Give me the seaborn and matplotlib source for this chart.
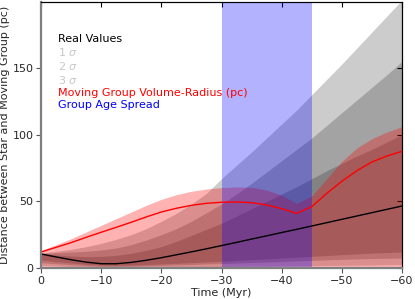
import matplotlib
matplotlib.use('Agg')
import matplotlib.pyplot as plt
import seaborn as sns
import pandas as pd
from matplotlib.lines import Line2D

# Temps (Myr), valeurs
time_myr = [0, -2.5, -5, -7.5, -10, -12.5, -15, -17.5, -20, -22.5, -25, -27.5, -30,
            -32.5, -35, -37.5, -40, -42.5, -45, -47.5, -50, -52.5, -55, -57.5, -60]

# distance réelle (médiane)
real_values = [10.5, 8.3, 6.2, 4.4, 3.2, 3.2, 4.2, 5.8, 7.7, 9.9, 12.1, 14.4, 16.8,
               19.2, 21.7, 24.1, 26.6, 29.0, 31.5, 34.0, 36.5, 39.0, 41.5, 44.0, 46.5]

# bandes 1, 2, 3 sigma
upper_1 = [10.8, 9.8, 9.0, 8.5, 8.7, 9.5, 11.0, 13.3, 16.0, 20.0, 24.5, 29.0, 33.6,
           39.0, 44.5, 50.0, 55.5, 61.0, 67.0, 73.0, 78.5, 84.0, 89.0, 94.5, 100.0]
lower_1 = [6.0, 4.8, 3.8, 2.8, 2.2, 2.0, 2.2, 2.6, 3.0, 3.5, 4.0, 4.5, 5.0,
           5.6, 6.2, 6.8, 7.5, 8.1, 8.7, 9.3, 10.0, 10.6, 11.2, 11.6, 12.0]
upper_2 = [11.0, 11.5, 12.0, 12.5, 13.5, 15.0, 17.5, 21.0, 25.0, 29.5, 35.0, 41.5, 48.0,
           55.5, 63.5, 72.0, 80.5, 89.0, 97.5, 107.0, 116.5, 126.0, 135.5, 145.0, 155.0]
lower_2 = [4.0, 3.2, 2.5, 1.8, 1.3, 1.2, 1.4, 1.7, 2.0, 2.3, 2.6, 3.0, 3.3,
           3.7, 4.1, 4.5, 4.9, 5.3, 5.7, 6.1, 6.5, 6.8, 7.1, 7.3, 7.5]
upper_3 = [11.0, 12.5, 14.0, 16.0, 18.5, 21.5, 25.0, 29.5, 35.0, 41.0, 48.0, 56.0, 67.0,
           77.0, 87.0, 97.5, 108.0, 118.5, 130.0, 141.5, 153.0, 165.0, 177.0, 189.0, 201.0]
lower_3 = [2.0, 1.5, 1.1, 0.8, 0.5, 0.4, 0.5, 0.6, 0.7, 0.8, 0.9, 1.0, 1.2,
           1.3, 1.4, 1.5, 1.6, 1.7, 1.8, 1.9, 2.0, 2.1, 2.2, 2.4, 2.5]

# rayon du groupe mobile
volume_radius = [12.0, 15.5, 19.0, 23.0, 26.8, 30.5, 34.3, 38.3, 42.0, 44.8, 47.0, 48.5, 49.3,
                 49.5, 49.0, 47.3, 44.5, 41.0, 46.0, 56.0, 65.0, 73.0, 79.5, 84.0, 87.5]
volume_radius_upper = [13.0, 17.5, 22.0, 27.0, 32.0, 37.0, 42.0, 47.0, 51.5, 55.0, 57.5, 59.3, 60.3,
                       60.8, 60.5, 58.5, 54.5, 48.5, 54.0, 67.0, 80.0, 90.0, 97.0, 102.0, 106.0]

# intervalle d'âge du groupe
age_spread = [-30, -45]

x_ticks = [0, -10, -20, -30, -40, -50, -60]
y_ticks = [0, 50, 100, 150]

legend_labels = ['Real Values', '1 $\\sigma$', '2 $\\sigma$', '3 $\\sigma$',
                 'Moving Group Volume-Radius (pc)', 'Group Age Spread']
legend_colors = ['black', '#c8c8c8', '#c8c8c8', '#c8c8c8', 'red', 'blue']

sns.set_theme(style='white')
plt.rcParams['font.family'] = ['DejaVu Sans']
plt.rcParams['axes.unicode_minus'] = True

fig = plt.figure(figsize=(4.15, 2.99), dpi=100)
ax = fig.add_axes([0.0988, 0.1037, 0.8699, 0.8896])

for lo, hi in [(lower_1, upper_1), (lower_2, upper_2), (lower_3, upper_3)]:
    ax.fill_between(time_myr, lo, hi, color='black', alpha=0.2, linewidth=0)
ax.fill_between(time_myr, 0, volume_radius_upper, color='red', alpha=0.3, linewidth=0)
ax.axvspan(age_spread[0], age_spread[1], color='blue', alpha=0.3, linewidth=0)

df = pd.DataFrame({'time': time_myr, 'real': real_values, 'radius': volume_radius})
sns.lineplot(data=df, x='time', y='real', color='black', lw=1, ax=ax)
sns.lineplot(data=df, x='time', y='radius', color='red', lw=1, ax=ax)

ax.set_xlim(0, -60)
ax.set_ylim(0, 199.5)
ax.set_xticks(x_ticks)
ax.set_yticks(y_ticks)
ax.set_xlabel('Time (Myr)', fontsize=8, labelpad=2)
ax.set_ylabel('Distance between Star and Moving Group (pc)', fontsize=8, labelpad=2)

for side in ['left', 'bottom']:
    ax.spines[side].set_color('#7f7f7f')
    ax.spines[side].set_linewidth(1.6)
for side in ['top', 'right']:
    ax.spines[side].set_color('black')
    ax.spines[side].set_linewidth(0.8)

ax.tick_params(axis='both', labelsize=8, length=3.5, width=0.8, direction='out', pad=2,
               color='#555555', bottom=True, left=True)

# petits ticks vers l'intérieur en haut et à droite
top = ax.secondary_xaxis('top')
top.set_xticks(x_ticks)
top.tick_params(direction='in', length=3.5, width=0.8, labeltop=False, color='black')
top.spines['top'].set_linewidth(0.8)
top.spines['top'].set_color('black')
right = ax.secondary_yaxis('right')
right.set_yticks(y_ticks)
right.tick_params(direction='in', length=3.5, width=0.8, labelright=False, color='black')
right.spines['right'].set_linewidth(0.8)
right.spines['right'].set_color('black')

handles = [Line2D([], [], linestyle='none') for _ in legend_labels]
ax.legend(handles, legend_labels, loc='upper left', bbox_to_anchor=(0.048, 0.88),
          handlelength=0, handletextpad=0, frameon=False, fontsize=8,
          labelcolor=legend_colors, labelspacing=0.19, borderpad=0, borderaxespad=0)

fig.savefig('out.png', dpi=100)
